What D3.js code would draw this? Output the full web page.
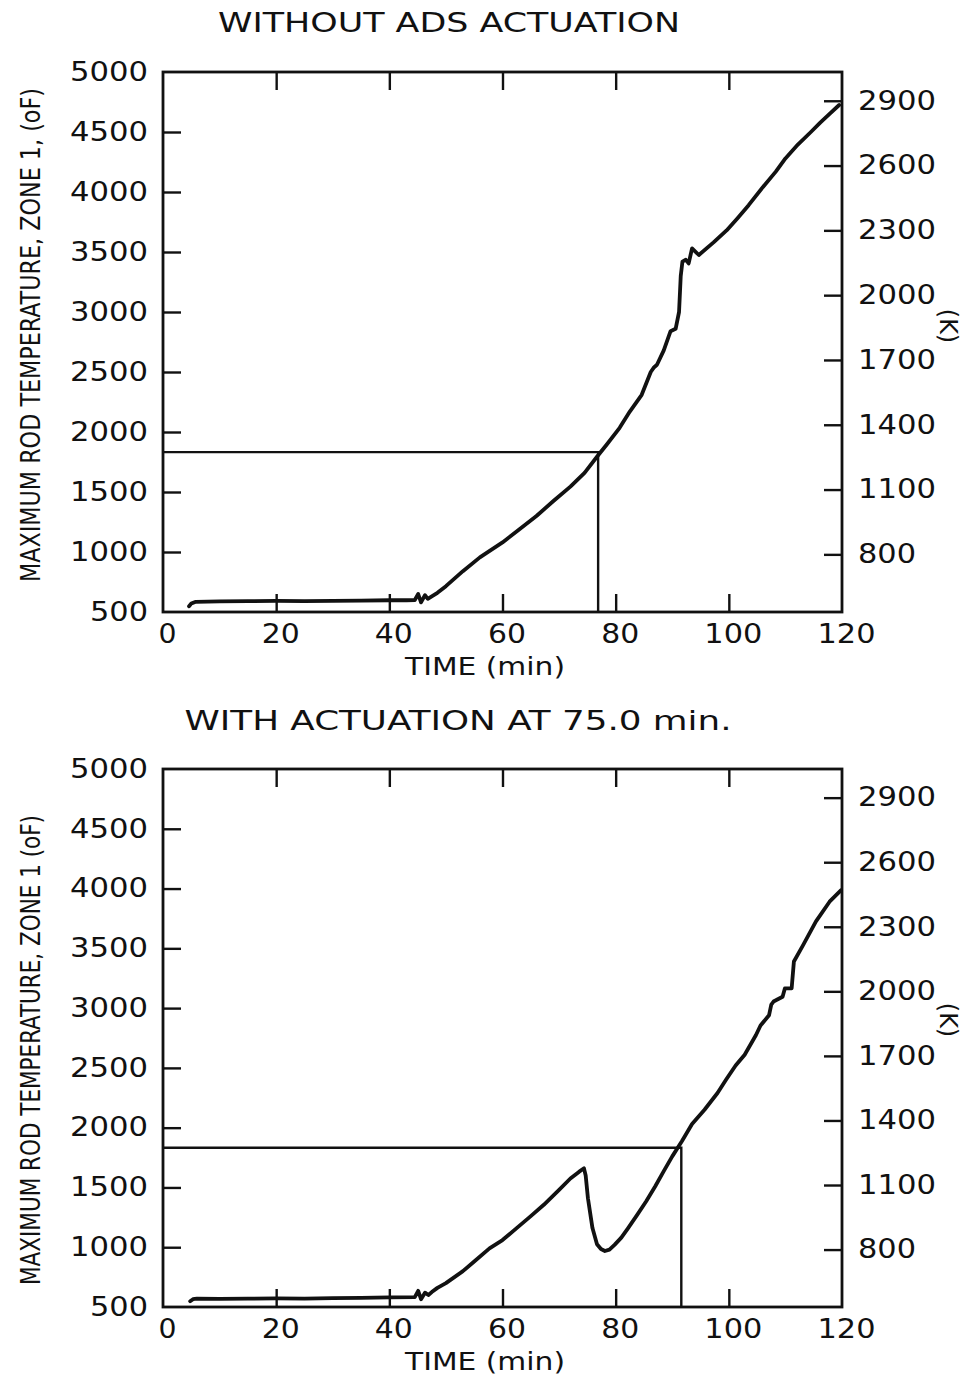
<!DOCTYPE html>
<html>
<head>
<meta charset="utf-8">
<script src="https://cdn.jsdelivr.net/npm/d3@7"></script>
<style>
  body { margin: 0; background: #fff; }
  svg { display: block; }
  .tick-label { font-family: "DejaVu Sans", sans-serif; font-size: 26px; fill: #111; }
  .title { font-family: "DejaVu Sans", sans-serif; font-size: 27px; fill: #111; }
  .ylab { font-family: "DejaVu Sans Condensed", "Liberation Sans Narrow", "DejaVu Sans", sans-serif; font-size: 27px; fill: #111; }
  .xlab { font-family: "DejaVu Sans", sans-serif; font-size: 24px; fill: #111; }
</style>
</head>
<body>
<svg id="chart"></svg>
<script>
const W = 964, H = 1377;
const PLOT_L = 163, PLOT_R = 842;
const TICK = 18;

// axis tick values
const T_TICKS = [0, 20, 40, 60, 80, 100, 120];
const F_TICKS = [500, 1000, 1500, 2000, 2500, 3000, 3500, 4000, 4500, 5000];
const K_TICKS = [800, 1100, 1400, 1700, 2000, 2300, 2600, 2900];
const F_LIMIT = 1832;

// without ADS actuation: time (min), max rod temp (oF)
const noAdsTime = [4.6, 5.0, 5.8, 10, 15, 20, 25, 30, 35, 40, 43, 44.5, 45.1, 45.6, 46.3, 46.8, 47.5, 48.5,
  50, 53, 56, 60, 63, 66, 69, 72, 74.5, 76.8, 78.5, 80.7, 82.5, 84.6, 86.2, 86.8, 87.3, 88.5, 89.7, 90.6,
  91.2, 91.5, 91.8, 92.4, 92.9, 93.5, 94.7, 97.3, 99.6, 101.5, 103.5, 106, 108.3, 110, 112.2, 114.5, 116.2, 118, 119.5];
const noAdsTemp = [548, 570, 585, 588, 590, 592, 590, 592, 595, 598, 598, 600, 650, 580, 640, 610, 630, 660,
  715, 840, 955, 1080, 1190, 1300, 1425, 1545, 1660, 1800, 1900, 2035, 2170, 2310, 2500, 2540, 2560, 2680, 2840, 2860,
  3000, 3300, 3420, 3435, 3405, 3530, 3475, 3580, 3680, 3780, 3890, 4040, 4170, 4280, 4395, 4500, 4580, 4660, 4725];
const noAdsCross = 76.9;

// with actuation at 75.0 min
const adsTime = [4.8, 5.3, 6, 10, 15, 20, 25, 30, 35, 40, 44.5, 45.1, 45.6, 46.3, 46.9, 47.5, 48.5, 50, 53, 55,
  57.7, 60, 62.5, 65, 67.3, 70, 72, 73.5, 74.4, 74.7, 75.1, 75.9, 76.7, 77.4, 78.1, 78.9, 79.8, 81, 82.2, 83.8,
  85.4, 87, 88.5, 90, 91.7, 93.5, 95.7, 98, 99.5, 101.2, 102.8, 104.8, 105.6, 107.1, 107.5, 107.9, 109.5, 109.9,
  111.1, 111.5, 113.1, 115.4, 117.8, 119.8];
const adsTemp = [548, 565, 570, 568, 570, 572, 570, 574, 576, 580, 582, 635, 565, 620, 600, 625, 660, 700, 800, 880,
  990, 1060, 1160, 1260, 1355, 1480, 1575, 1630, 1660, 1600, 1410, 1160, 1025, 985, 968, 980, 1020, 1080, 1160, 1270,
  1385, 1510, 1636, 1760, 1887, 2030, 2150, 2290, 2400, 2520, 2610, 2775, 2855, 2940, 3030, 3055, 3095, 3165,
  3165, 3390, 3525, 3725, 3890, 3985];
const adsCross = 91.6;

const fToK = f => (f - 32) * 5 / 9 + 273.15;
const fmt = d3.format("d");

const svg = d3.select("#chart").attr("width", W).attr("height", H);

const x = d3.scaleLinear().domain([0, 120]).range([PLOT_L, PLOT_R]);

function drawPanel(opt) {
  const y = d3.scaleLinear().domain([500, 5000]).range([opt.bottom, opt.top]);
  const yK = d3.scaleLinear().domain([fToK(500), fToK(5000)]).range([opt.bottom, opt.top]);
  const g = svg.append("g");

  // inward ticks
  g.append("g").attr("transform", `translate(${PLOT_L},0)`)
    .call(d3.axisLeft(y).tickValues(F_TICKS.slice(1, -1)).tickSize(-TICK).tickFormat(""));
  g.append("g").attr("transform", `translate(${PLOT_R},0)`)
    .call(d3.axisRight(yK).tickValues(K_TICKS).tickSize(-TICK).tickFormat(""));
  g.append("g").attr("transform", `translate(0,${opt.bottom})`)
    .call(d3.axisBottom(x).tickValues(T_TICKS.slice(1, -1)).tickSize(-TICK).tickFormat(""));
  g.append("g").attr("transform", `translate(0,${opt.top})`)
    .call(d3.axisTop(x).tickValues(T_TICKS.slice(1, -1)).tickSize(-TICK).tickFormat(""));
  g.selectAll(".domain").remove();
  g.selectAll(".tick line").attr("stroke", "#111").attr("stroke-width", 2.4);

  // labels
  const lab = svg.append("g");
  lab.append("g").attr("transform", `translate(${PLOT_L},0)`)
    .call(d3.axisLeft(y).tickValues(F_TICKS).tickFormat(fmt).tickSize(0).tickPadding(15));
  lab.append("g").attr("transform", `translate(${PLOT_R},0)`)
    .call(d3.axisRight(yK).tickValues(K_TICKS).tickFormat(fmt).tickSize(0).tickPadding(16));
  lab.append("g").attr("transform", `translate(4,${opt.bottom})`)
    .call(d3.axisBottom(x).tickValues(T_TICKS).tickFormat(fmt).tickSize(0).tickPadding(13));
  lab.selectAll(".domain").remove();
  lab.selectAll("text")
    .attr("class", "tick-label")
    .attr("font-size", null).attr("font-family", null).attr("fill", null)
    .attr("textLength", function () { return this.textContent.length * 20 - 2; })
    .attr("lengthAdjust", "spacingAndGlyphs");

  // frame
  svg.append("rect")
    .attr("x", PLOT_L).attr("y", opt.top)
    .attr("width", PLOT_R - PLOT_L).attr("height", opt.bottom - opt.top)
    .attr("fill", "none").attr("stroke", "#111").attr("stroke-width", 2.8);

  // 1832 oF limit and crossing time
  svg.append("path")
    .attr("d", `M${x(0)},${y(F_LIMIT)}H${x(opt.cross)}V${y(500)}`)
    .attr("fill", "none").attr("stroke", "#111").attr("stroke-width", 2.4);

  // temperature curve
  const line = d3.line().x(d => x(d[0])).y(d => y(d[1]));
  svg.append("path")
    .datum(d3.zip(opt.time, opt.temp))
    .attr("d", line)
    .attr("fill", "none").attr("stroke", "#111")
    .attr("stroke-width", 3.8).attr("stroke-linejoin", "round").attr("stroke-linecap", "round");

  // titles
  svg.append("text").attr("class", "title")
    .attr("x", opt.titleX).attr("y", opt.titleY).attr("text-anchor", "middle")
    .attr("textLength", opt.titleLen).attr("lengthAdjust", "spacingAndGlyphs")
    .text(opt.title);

  svg.append("text").attr("class", "xlab")
    .attr("x", 485).attr("y", opt.bottom + 63).attr("text-anchor", "middle")
    .attr("textLength", 160).attr("lengthAdjust", "spacingAndGlyphs")
    .text("TIME (min)");

  svg.append("text").attr("class", "ylab")
    .attr("transform", `translate(40,${opt.yLabY}) rotate(-90)`)
    .attr("text-anchor", "middle")
    .attr("textLength", opt.yLabLen).attr("lengthAdjust", "spacingAndGlyphs")
    .text(opt.yLab);

  svg.append("text").attr("class", "xlab")
    .attr("font-size", 17)
    .attr("transform", `translate(${opt.kX},${opt.kY}) rotate(90)`)
    .attr("text-anchor", "middle")
    .text("(K)");
}

drawPanel({
  top: 72, bottom: 612, time: noAdsTime, temp: noAdsTemp, cross: noAdsCross,
  title: "WITHOUT ADS ACTUATION", titleX: 449, titleY: 32, titleLen: 462,
  yLab: "MAXIMUM ROD TEMPERATURE, ZONE 1, (oF)", yLabY: 335, yLabLen: 494,
  kX: 940, kY: 326
});

drawPanel({
  top: 769, bottom: 1307, time: adsTime, temp: adsTemp, cross: adsCross,
  title: "WITH ACTUATION AT 75.0 min.", titleX: 458, titleY: 730, titleLen: 547,
  yLab: "MAXIMUM ROD TEMPERATURE, ZONE 1 (oF)", yLabY: 1050, yLabLen: 470,
  kX: 940, kY: 1020
});
</script>
</body>
</html>
